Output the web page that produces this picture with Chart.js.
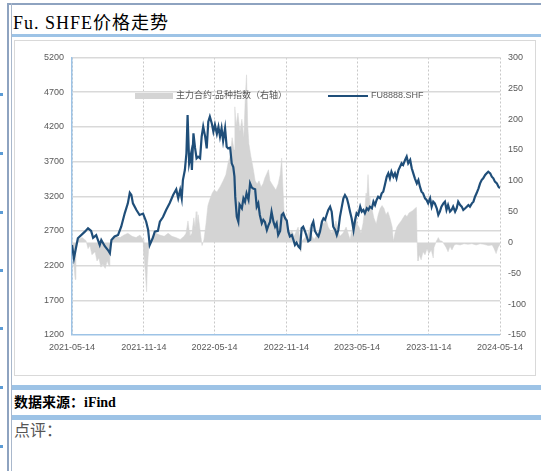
<!DOCTYPE html>
<html>
<head>
<meta charset="utf-8">
<script src="https://cdn.jsdelivr.net/npm/chart.js@4/dist/chart.umd.min.js"></script>
<style>
  body { margin: 0; width: 541px; height: 471px; position: relative; overflow: hidden; background: #fff;
         font-family: "Liberation Serif", "Noto Sans CJK SC", serif; }
  .line-h { position: absolute; left: 7px; top: 3px; width: 534px; height: 2px; background: #8ea3c0; }
  .line-v1 { position: absolute; left: 7px; top: 3px; width: 2px; height: 468px; background: #8ea3c0; }
  .line-v2 { position: absolute; left: 11px; top: 3px; width: 1px; height: 468px; background: #a9b8cc; }
  .bar { position: absolute; left: 12px; width: 529px; background: #9dc3e6; }
  .dot { position: absolute; left: 0; width: 3px; height: 3px; background: #5b9bd5; }
  #title { position: absolute; left: 13px; top: 13px; font-size: 18px; line-height: 20px; letter-spacing: 1px; white-space: nowrap; }
  #box { position: absolute; left: 14px; top: 40px; width: 520px; height: 334px; border: 1px solid #d9d9d9; }
  #src { position: absolute; left: 14px; top: 395px; font-size: 14px; line-height: 16px; font-weight: bold; white-space: nowrap; }
  #note { position: absolute; left: 14px; top: 422px; font-size: 16px; line-height: 18px; color: #555; }
</style>
</head>
<body>
<div class="line-h"></div><div class="line-v1"></div><div class="line-v2"></div>
<div class="dot" style="top:93px"></div><div class="dot" style="top:152px"></div>
<div class="dot" style="top:211px"></div><div class="dot" style="top:269px"></div>
<div class="dot" style="top:327px"></div><div class="dot" style="top:386px"></div>
<div class="dot" style="top:445px"></div>
<div id="title">Fu. SHFE价格走势</div>
<div class="bar" style="top:34px;height:3px"></div>
<div id="box"><canvas id="chart"></canvas></div>
<div class="bar" style="top:385px;height:5px"></div>
<div id="src">数据来源：iFind</div>
<div class="bar" style="top:415px;height:5px"></div>
<div id="note">点评：</div>

<script>
const startDate = '2021-05-14';
const tickDates = ['2021-05-14', '2021-11-14', '2022-05-14', '2022-11-14', '2023-05-14', '2023-11-14', '2024-05-14'];
const leftTicks = [1200, 1700, 2200, 2700, 3200, 3700, 4200, 4700, 5200];
const rightTicks = [-150, -100, -50, 0, 50, 100, 150, 200, 250, 300];
const seriesNames = ['主力合约-品种指数（右轴）', 'FU8888.SHF'];

// FU8888.SHF close, days counted from startDate
const priceDays = [
  0, 5, 15, 33, 41, 49, 54, 62, 71, 75, 84, 92, 97, 101, 109, 118, 126, 135, 143, 148,
  152, 156, 165, 173, 182, 190, 195, 199, 207, 212, 220, 225, 233, 241, 250, 259, 267, 272, 277, 281,
  284, 289, 293, 296, 300, 305, 307, 311, 315, 319, 323, 328, 332, 336, 341, 345, 349, 353, 358, 362,
  366, 371, 375, 379, 383, 387, 392, 396, 400, 405, 409, 413, 416, 418, 422, 426, 429, 435, 439, 443,
  447, 452, 456, 460, 464, 469, 473, 477, 481, 486, 490, 494, 499, 503, 507, 511, 516, 520, 524, 528,
  533, 537, 541, 546, 550, 554, 558, 563, 567, 571, 575, 580, 584, 588, 592, 597, 601, 605, 610, 614,
  618, 622, 627, 631, 635, 640, 644, 648, 652, 656, 661, 665, 669, 674, 678, 682, 686, 691, 695, 699,
  704, 708, 712, 716, 721, 725, 729, 733, 738, 742, 746, 750, 755, 759, 763, 768, 772, 776, 780, 784,
  789, 793, 797, 801, 806, 810, 814, 818, 823, 827, 831, 836, 840, 844, 848, 853, 857, 861, 866, 870,
  874, 878, 883, 887, 891, 895, 899, 904, 908, 912, 917, 921, 925, 929, 934, 938, 942, 946, 951, 955,
  959, 963, 968, 972, 976, 981, 985, 989, 994, 998, 1002, 1007, 1011, 1015, 1019, 1024, 1028, 1032, 1036, 1041,
  1045, 1049, 1053, 1058, 1062, 1066, 1071, 1075, 1079, 1083, 1088, 1092, 1096
];
const priceValues = [
  2497, 2306, 2594, 2690, 2738, 2700, 2600, 2640, 2497, 2570, 2480, 2425, 2378, 2570, 2620, 2642, 2761, 2954, 3098, 3251,
  3220, 3098, 3002, 2930, 2950, 2833, 2714, 2497, 2600, 2690, 2700, 2833, 2900, 3002, 3100, 3218, 3300, 3170, 3290, 3170,
  3434, 3578, 3819, 4371, 3675, 3819, 3578, 4107, 3900, 3747, 3770, 3747, 4059, 4203, 4059, 3891, 4275, 4347, 4250, 4131,
  4230, 4100, 4200, 4059, 4180, 4000, 4180, 3914, 3890, 3900, 3675, 3620, 3482, 3194, 2905, 2833, 3080, 3026, 3170, 3120,
  3242, 3150, 3386, 3330, 3310, 3300, 3050, 3100, 2930, 2810, 2860, 2830, 2714, 2780, 2830, 2978, 2830, 2761, 2810, 2642,
  2700, 2930, 2954, 2880, 2850, 2690, 2620, 2640, 2570, 2497, 2530, 2473, 2450, 2738, 2760, 2690, 2620, 2550, 2570, 2780,
  2833, 2700, 2650, 2620, 2690, 2833, 2882, 2860, 2930, 3000, 3050, 2978, 2761, 2714, 2642, 2714, 2900, 3050, 3170, 3218,
  3170, 3080, 2978, 2882, 2714, 2860, 2954, 2930, 3050, 2978, 3002, 2954, 3026, 3002, 3050, 3026, 3122, 3074, 3146, 3194,
  3170, 3242, 3266, 3360, 3482, 3530, 3458, 3554, 3482, 3530, 3458, 3578, 3626, 3675, 3650, 3723, 3771, 3675, 3723, 3603,
  3530, 3458, 3386, 3434, 3338, 3266, 3242, 3170, 3146, 3098, 3170, 3050, 3122, 3098, 3026, 2930, 2978, 3050, 3098, 3122,
  3002, 3074, 2978, 3002, 3050, 2978, 3026, 3122, 3074, 3050, 3002, 3026, 3050, 3074, 3050, 3098, 3122, 3194, 3242, 3314,
  3386, 3434, 3458, 3506, 3530, 3554, 3530, 3482, 3458, 3410, 3386, 3338, 3314
];

// main contract minus variety index (right axis)
const basisDays = [
  0, 3, 8, 10, 15, 26, 36, 41, 46, 51, 59, 64, 69, 74, 79, 85, 90, 95, 97, 102,
  113, 123, 133, 143, 154, 164, 174, 182, 184, 188, 191, 193, 197, 205, 215, 225, 236, 246, 256, 266,
  277, 287, 292, 297, 300, 302, 307, 312, 315, 318, 320, 323, 328, 333, 338, 343, 348, 353, 359, 364,
  371, 379, 387, 394, 400, 405, 410, 415, 417, 420, 425, 430, 435, 440, 444, 447, 450, 453, 458, 464,
  469, 474, 479, 484, 489, 494, 499, 503, 507, 512, 517, 522, 528, 533, 537, 540, 543, 548, 553, 558,
  563, 569, 574, 579, 584, 586, 589, 597, 604, 610, 615, 620, 627, 635, 640, 645, 650, 656, 661, 666,
  671, 676, 681, 686, 694, 702, 707, 712, 717, 722, 726, 730, 735, 740, 745, 750, 753, 755, 758, 761,
  763, 768, 773, 779, 784, 789, 794, 799, 804, 809, 814, 820, 823, 827, 832, 837, 843, 848, 853, 858,
  863, 868, 873, 878, 882, 884, 886, 889, 894, 899, 904, 909, 914, 920, 925, 927, 933, 938, 942, 948,
  953, 958, 963, 968, 973, 979, 984, 994, 1004, 1014, 1024, 1035, 1045, 1055, 1066, 1076, 1081, 1086, 1091, 1096
];
const basisValues = [
  5, -20, -60, -10, 5, 8, 3, -10, -5, -20, -15, -30, -25, -40, -35, -42, -30, -38, -10, 5,
  10, 8, 12, 15, 10, 8, 12, 5, -20, -50, -80, -40, -5, 10, 15, 12, 10, 15, 10, 8,
  5, 10, 15, 35, 20, 10, 15, 40, 25, 50, 30, 45, 20, -5, 5, 30, 60, 70, 80, 85,
  82, 90, 100, 110, 130, 140, 170, 150, 220, 190, 210, 180, 200, 170, 240, 272, 190, 160, 140, 120,
  100, 95, 100, 90, 95, 105, 112, 118, 100, 95, 90, 85, 95, 110, 137, 90, 50, 35, 25, 15,
  20, 10, 18, 25, 5, -15, 3, 8, 15, 25, 10, 5, 12, 20, 35, 30, 40, 25, 20, 15,
  25, 35, 20, 10, 15, 25, 15, 5, 20, 35, 50, 30, 25, 15, 30, 55, 80, 70, 110, 75,
  60, 55, 40, 30, 45, 55, 60, 55, 45, 50, 40, 25, 2, 15, 25, 30, 35, 40, 45, 42,
  48, 50, 52, 55, 57, -5, -30, -20, -28, -15, -20, -10, -18, -12, -25, -8, 2, 8, 3, 2,
  -3, -8, -15, -6, -12, -4, -3, -4, -2, -3, -2, -4, -2, -3, -5, -4, -10, -18, -8, -3
];

const dayOf = d => Math.round((Date.parse(d) - Date.parse(startDate)) / 86400000);
const tickFont = { family: "'Liberation Sans', 'Noto Sans CJK SC', sans-serif", size: 9 };

// legend sits inside the plot, like the original
const inlineLegend = {
  id: 'inlineLegend',
  afterDatasetsDraw(chart) {
    const { ctx, chartArea } = chart;
    const price = chart.data.datasets[0], basis = chart.data.datasets[1];
    const y = chartArea.top + 38.5;
    let x = chartArea.left + 63;
    ctx.save();
    ctx.font = "9px 'Liberation Sans', 'Noto Sans CJK SC', sans-serif";
    ctx.textBaseline = 'middle';
    ctx.fillStyle = basis.backgroundColor;
    ctx.fillRect(x, y - 3, 38, 6);
    x += 41;
    ctx.fillStyle = '#595959';
    ctx.fillText(basis.label, x, y);
    x += ctx.measureText(basis.label).width + 41;
    ctx.strokeStyle = price.borderColor;
    ctx.lineWidth = 2;
    ctx.beginPath(); ctx.moveTo(x, y); ctx.lineTo(x + 40, y); ctx.stroke();
    x += 43;
    ctx.fillText(price.label, x, y);
    ctx.restore();
  }
};

new Chart(document.getElementById('chart').getContext('2d'), {
  type: 'line',
  data: {
    datasets: [
      {
        label: seriesNames[1],
        data: priceDays.map((d, i) => ({ x: d, y: priceValues[i] })),
        yAxisID: 'y',
        borderColor: '#1f4e79',
        backgroundColor: '#1f4e79',
        borderWidth: 2.2,
        pointRadius: 0,
        tension: 0,
        order: 0
      },
      {
        label: seriesNames[0],
        data: basisDays.map((d, i) => ({ x: d, y: basisValues[i] })),
        yAxisID: 'y1',
        fill: 'origin',
        borderColor: '#d4d4d4',
        backgroundColor: '#d4d4d4',
        borderWidth: 0.5,
        pointRadius: 0,
        tension: 0,
        order: 1
      }
    ]
  },
  options: {
    responsive: true,
    maintainAspectRatio: false,
    animation: false,
    layout: { padding: { top: 16.5, left: 0, right: 0, bottom: 0 } },
    plugins: { legend: { display: false }, tooltip: { enabled: false } },
    scales: {
      x: {
        type: 'linear',
        min: 0,
        max: dayOf(tickDates[tickDates.length - 1]),
        afterBuildTicks: s => { s.ticks = tickDates.map(d => ({ value: dayOf(d) })); },
        afterFit: s => { s.height = 40; },
        ticks: { callback: (v, i) => tickDates[i], color: '#595959', font: tickFont, padding: 7, maxRotation: 0, autoSkip: false },
        grid: { color: '#c8c8c8', drawTicks: false, lineWidth: 1 },
        border: { display: false, dash: [2, 2] }
      },
      y: {
        position: 'left',
        min: 1200,
        max: 5200,
        afterBuildTicks: s => { s.ticks = leftTicks.map(v => ({ value: v })); },
        afterFit: s => { s.width = 57; },
        ticks: { callback: v => String(v), color: '#595959', font: tickFont, padding: 8 },
        grid: { color: c => (c.tick && c.tick.value === 1200 ? '#9dc3e6' : '#d9d9d9'), drawTicks: false, lineWidth: 1.5 },
        border: { display: true, color: '#9dc3e6', width: 1.5 }
      },
      y1: {
        position: 'right',
        min: -150,
        max: 300,
        afterBuildTicks: s => { s.ticks = rightTicks.map(v => ({ value: v })); },
        afterFit: s => { s.width = 35; },
        ticks: { callback: v => String(v), color: '#595959', font: tickFont, padding: 8 },
        grid: { drawOnChartArea: false, drawTicks: false },
        border: { display: false }
      }
    }
  },
  plugins: [inlineLegend]
});
</script>
</body>
</html>
